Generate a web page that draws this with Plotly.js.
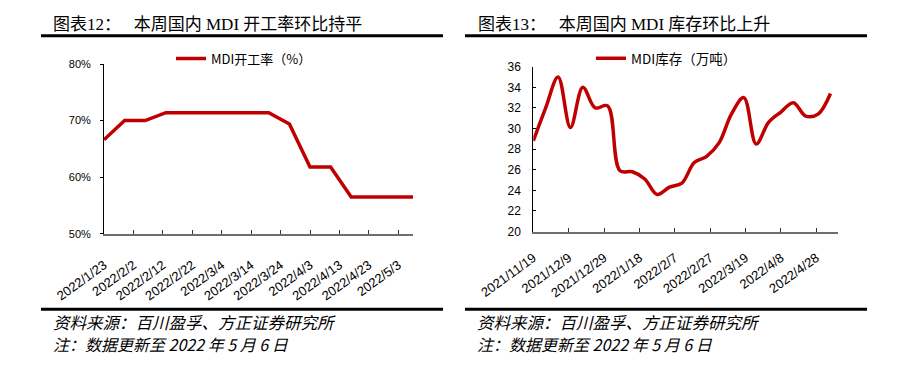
<!DOCTYPE html>
<html>
<head>
<meta charset="utf-8">
<script src="https://cdn.plot.ly/plotly-3.0.1.min.js"></script>
<style>
html,body{margin:0;padding:0;background:#fff;}
#chart{width:909px;height:387px;}
</style>
</head>
<body>
<div id="chart"></div>
<script>
// ---- Data: left panel (MDI operating rate, %) ----
var rateDates = ['2022-01-23','2022-01-30','2022-02-06','2022-02-13','2022-02-20','2022-02-27',
                 '2022-03-06','2022-03-13','2022-03-20','2022-03-27','2022-04-03','2022-04-10',
                 '2022-04-17','2022-04-24','2022-05-01','2022-05-08'];
var rateValues = [66.6, 70.0, 70.0, 71.4, 71.4, 71.4, 71.4, 71.4, 71.4, 69.4, 61.8, 61.8, 56.5, 56.5, 56.5, 56.5];
var rateTickVals = ['2022-01-23','2022-02-02','2022-02-12','2022-02-22','2022-03-04','2022-03-14',
                    '2022-03-24','2022-04-03','2022-04-13','2022-04-23','2022-05-03'];
var rateTickText = ['2022/1/23','2022/2/2','2022/2/12','2022/2/22','2022/3/4','2022/3/14',
                    '2022/3/24','2022/4/3','2022/4/13','2022/4/23','2022/5/3'];

// ---- Data: right panel (MDI inventory, 10k tonnes) ----
var stockDates = ['2021-11-19','2021-11-26','2021-12-03','2021-12-10','2021-12-17','2021-12-24',
                  '2021-12-31','2022-01-07','2022-01-14','2022-01-21','2022-01-28','2022-02-04',
                  '2022-02-11','2022-02-18','2022-02-25','2022-03-04','2022-03-11','2022-03-18',
                  '2022-03-25','2022-04-01','2022-04-08','2022-04-15','2022-04-22','2022-04-29','2022-05-06'];
var stockValues = [28.8, 32.0, 35.0, 30.1, 34.0, 32.0, 32.2, 25.9, 25.8, 25.1, 23.6, 24.3, 24.7,
                   26.7, 27.3, 28.6, 31.4, 33.0, 28.5, 30.6, 31.6, 32.5, 31.2, 31.4, 33.4];
var stockTickVals = ['2021-11-19','2021-12-09','2021-12-29','2022-01-18','2022-02-07','2022-02-27',
                     '2022-03-19','2022-04-08','2022-04-28'];
var stockTickText = ['2021/11/19','2021/12/9','2021/12/29','2022/1/18','2022/2/7','2022/2/27',
                     '2022/3/19','2022/4/8','2022/4/28'];

// ---- Texts ----
var title1 = '图表12：\u00a0\u00a0\u00a0本周国内 MDI 开工率环比持平';
var title2 = '图表13：\u00a0\u00a0\u00a0本周国内 MDI 库存环比上升';
var seriesName1 = 'MDI开工率（%）';
var seriesName2 = 'MDI库存（万吨）';
var sourceText = '资料来源：百川盈孚、方正证券研究所';
var noteText = '注：数据更新至 2022 年 5 月 6 日';

// ---- Layout helpers (pixel -> paper) ----
var W = 909, H = 387;
function px(x){ return x / W; }
function py(y){ return 1 - y / H; }

var RED = '#C00000';
var sans = 'Liberation Sans, Arial, sans-serif';
var cjk = 'Noto Sans CJK SC, sans-serif';
var xTickFont = {family: sans, size: 13, color: '#000'};

var traces = [
  {x: rateDates, y: rateValues, type: 'scatter', mode: 'lines', name: seriesName1,
   xaxis: 'x', yaxis: 'y', legend: 'legend',
   line: {color: RED, width: 3.5, shape: 'linear'}},
  {x: stockDates, y: stockValues, type: 'scatter', mode: 'lines', name: seriesName2,
   xaxis: 'x2', yaxis: 'y2', legend: 'legend2',
   line: {color: RED, width: 3.5, shape: 'spline', smoothing: 1}}
];

function xAxis(domain, range, vals, text, anchor, standoff){
  return {domain: domain, anchor: anchor, type: 'date', range: range,
    tickmode: 'array', tickvals: vals, ticktext: text, tickangle: -36,
    tickfont: xTickFont, ticks: 'inside', ticklen: 4, tickwidth: 1, tickcolor: '#333',
    showline: true, linecolor: '#6e6e6e', linewidth: 2, showgrid: false, zeroline: false,
    ticklabelstandoff: standoff};
}

var layout = {
  width: W, height: H, autosize: false,
  margin: {l: 0, r: 0, t: 0, b: 0, pad: 0},
  paper_bgcolor: '#fff', plot_bgcolor: 'rgba(0,0,0,0)',
  showlegend: true,
  xaxis: xAxis([px(104), px(413)], ['2022-01-23', '2022-05-08'], rateTickVals, rateTickText, 'y', 17),
  yaxis: {domain: [py(233.7), py(64)], anchor: 'x', range: [50, 80], dtick: 10, tick0: 50,
    ticksuffix: '%', tickfont: {family: sans, size: 11, color: '#000'},
    ticks: 'outside', ticklen: 3, tickcolor: '#000', showline: true, linecolor: '#000', linewidth: 1,
    showgrid: false, zeroline: false, ticklabelstandoff: 7},
  xaxis2: xAxis([px(533.3), px(838.3)], ['2021-11-19', '2022-05-10 10:00'], stockTickVals, stockTickText, 'y2', 12),
  yaxis2: {domain: [py(231.5), py(66.7)], anchor: 'x2', range: [20, 36], dtick: 2, tick0: 20,
    tickfont: {family: sans, size: 12, color: '#000'}, ticks: 'inside', ticklen: 3, tickcolor: '#000',
    showline: true, linecolor: '#000', linewidth: 1, showgrid: false, zeroline: false,
    ticklabelstandoff: 9},
  legend: {x: px(171), y: py(58.5), xanchor: 'left', yanchor: 'middle', bgcolor: 'rgba(0,0,0,0)',
    font: {family: cjk, size: 13, color: '#000'}, borderwidth: 0},
  legend2: {x: px(591), y: py(58.5), xanchor: 'left', yanchor: 'middle', bgcolor: 'rgba(0,0,0,0)',
    font: {family: cjk, size: 13.5, color: '#000'}, borderwidth: 0},
  shapes: [
    {type: 'line', xref: 'paper', yref: 'paper', x0: px(41), x1: px(443), y0: py(35.7), y1: py(35.7), line: {color: '#000', width: 3}},
    {type: 'line', xref: 'paper', yref: 'paper', x0: px(465), x1: px(867), y0: py(35.7), y1: py(35.7), line: {color: '#000', width: 3}},
    {type: 'line', xref: 'paper', yref: 'paper', x0: px(41), x1: px(443), y0: py(309.3), y1: py(309.3), line: {color: '#000', width: 3}},
    {type: 'line', xref: 'paper', yref: 'paper', x0: px(465), x1: px(867), y0: py(309.3), y1: py(309.3), line: {color: '#000', width: 3}}
  ],
  annotations: [
    {text: title1, xref: 'paper', yref: 'paper', x: px(51), y: py(25), xanchor: 'left', yanchor: 'middle', showarrow: false,
     font: {family: 'Liberation Serif, ' + cjk, size: 17, color: '#000'}},
    {text: title2, xref: 'paper', yref: 'paper', x: px(476), y: py(25), xanchor: 'left', yanchor: 'middle', showarrow: false,
     font: {family: 'Liberation Serif, ' + cjk, size: 17, color: '#000'}},
    {text: sourceText, xref: 'paper', yref: 'paper', x: px(51), y: py(322.3), xanchor: 'left', yanchor: 'middle', showarrow: false,
     font: {family: cjk, size: 16.5, color: '#000', style: 'italic'}},
    {text: noteText, xref: 'paper', yref: 'paper', x: px(51), y: py(344), xanchor: 'left', yanchor: 'middle', showarrow: false,
     font: {family: cjk, size: 16, color: '#000', style: 'italic'}},
    {text: sourceText, xref: 'paper', yref: 'paper', x: px(475), y: py(322.3), xanchor: 'left', yanchor: 'middle', showarrow: false,
     font: {family: cjk, size: 16.5, color: '#000', style: 'italic'}},
    {text: noteText, xref: 'paper', yref: 'paper', x: px(475), y: py(344), xanchor: 'left', yanchor: 'middle', showarrow: false,
     font: {family: cjk, size: 16, color: '#000', style: 'italic'}}
  ]
};

Plotly.newPlot('chart', traces, layout, {staticPlot: true, displayModeBar: false});
</script>
</body>
</html>
